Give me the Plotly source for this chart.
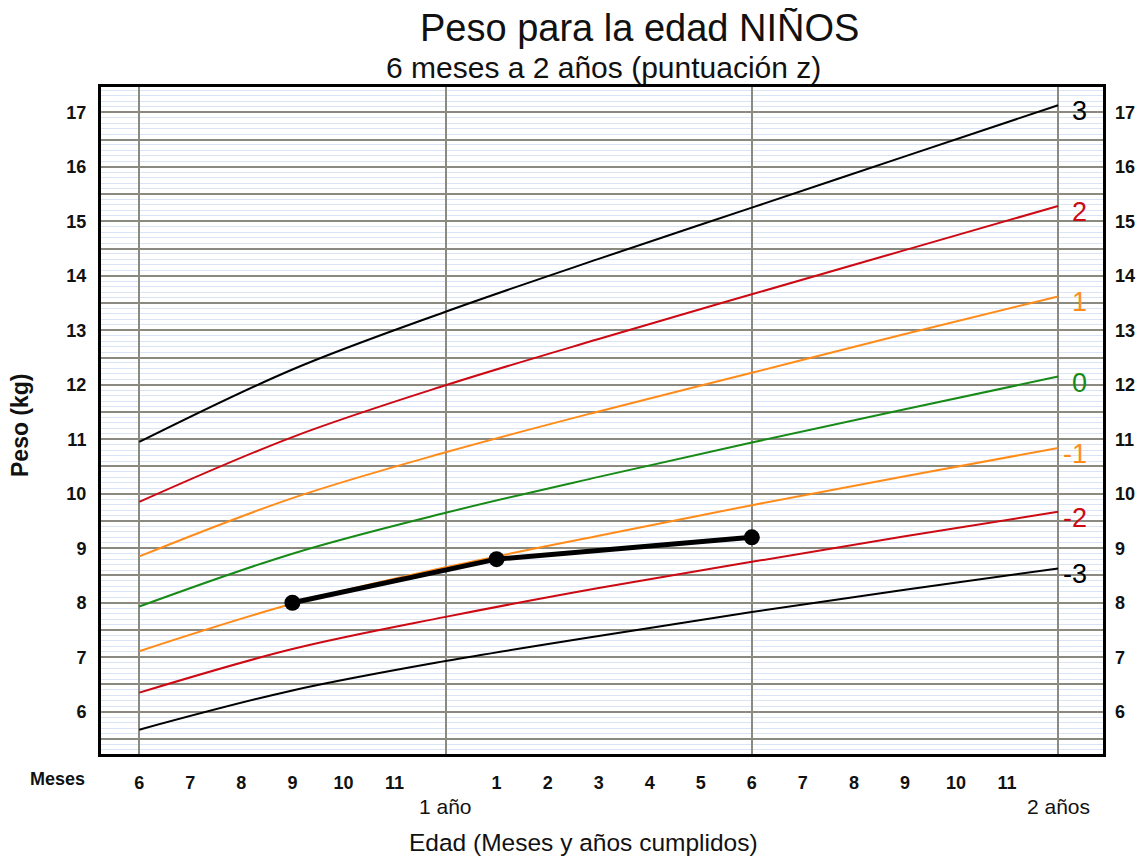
import plotly.graph_objects as go

# ---- data (every 3 months) ----
months = [6, 9, 12, 15, 18, 21, 24]
z_p3 = [10.95, 12.28, 13.34, 14.31, 15.25, 16.19, 17.13]
z_p2 = [9.85, 11.04, 11.99, 12.84, 13.66, 14.47, 15.28]
z_p1 = [8.85, 9.92, 10.76, 11.51, 12.22, 12.93, 13.62]
z_0 = [7.93, 8.90, 9.65, 10.31, 10.94, 11.55, 12.15]
z_m1 = [7.11, 7.98, 8.65, 9.23, 9.79, 10.32, 10.84]
z_m2 = [6.35, 7.15, 7.74, 8.27, 8.75, 9.22, 9.67]
z_m3 = [5.67, 6.39, 6.93, 7.39, 7.83, 8.24, 8.63]

z_labels = ["3", "2", "1", "0", "-1", "-2", "-3"]
child_age = [9, 13, 18]
child_weight = [8.0, 8.8, 9.2]

month_ticks = list(range(6, 25))
month_ticktext = ["6", "7", "8", "9", "10", "11", "", "1", "2", "3", "4", "5", "6",
                  "7", "8", "9", "10", "11", ""]
year_ticks = [6, 12, 18, 24]
year_labels = [(12, "1 año"), (24, "2 años")]
y_major = [5.5 + 0.5 * i for i in range(24)]
y_labels = [str(int(v)) if v == int(v) else "" for v in y_major]
y_right = list(range(6, 18))

# ---- styles ----
BLACK = "#000000"
RED = "#cc0a14"
ORANGE = "#ff8c1a"
GREEN = "#178a17"
series = [
    (z_p3, BLACK), (z_p2, RED), (z_p1, ORANGE), (z_0, GREEN),
    (z_m1, ORANGE), (z_m2, RED), (z_m3, BLACK),
]
FONT = "Arial, Liberation Sans, sans-serif"
TXT = "#111111"
DARK_GRID = "#8a8a80"
LIGHT_GRID = "#dbe4f4"
XR = [5.25, 24.88]
YR = [5.224, 17.464]

fig = go.Figure()
for vals, col in series:
    fig.add_trace(go.Scatter(x=months, y=vals, mode="lines", xaxis="x2", yaxis="y",
                             line=dict(color=col, width=2, shape="spline", smoothing=1.0),
                             hoverinfo="skip", showlegend=False))

fig.add_trace(go.Scatter(x=child_age, y=child_weight, mode="lines+markers", xaxis="x2",
                         yaxis="y", line=dict(color="#000000", width=5),
                         marker=dict(color="#000000", size=16), showlegend=False))
# invisible trace to anchor right axis
fig.add_trace(go.Scatter(x=child_age, y=child_weight, mode="markers", xaxis="x",
                         yaxis="y2", marker=dict(opacity=0), hoverinfo="skip",
                         showlegend=False))

annotations = []
for (vals, col), lab in zip(series, z_labels):
    annotations.append(dict(x=months[-1], y=vals[-1], xref="x2", yref="y", text=lab,
                            xanchor="right", yanchor="middle", xshift=31, yshift=-6,
                            showarrow=False, font=dict(family=FONT, size=27, color=col)))
for xv, lab in year_labels:
    annotations.append(dict(x=xv, y=-0.078, xref="x2", yref="paper", text=lab,
                            xanchor="center", yanchor="middle", showarrow=False,
                            font=dict(family=FONT, size=21, color=TXT)))
annotations += [
    dict(x=-0.0435, y=-0.0375, xref="paper", yref="paper", text="Meses", showarrow=False,
         xanchor="center", yanchor="middle",
         font=dict(family=FONT, size=18, color=TXT, weight="bold")),
    dict(x=0.482, y=-0.1334, xref="paper", yref="paper",
         text="Edad (Meses y años cumplidos)", showarrow=False,
         xanchor="center", yanchor="middle", font=dict(family=FONT, size=24.5, color=TXT)),
    dict(x=-0.081, y=0.493, xref="paper", yref="paper", text="Peso (kg)", textangle=-90,
         showarrow=False, xanchor="center", yanchor="middle",
         font=dict(family=FONT, size=23, color=TXT, weight="bold")),
    dict(x=0.537, y=1.088, xref="paper", yref="paper", text="Peso para la edad NIÑOS",
         showarrow=False, xanchor="center", yanchor="middle",
         font=dict(family=FONT, size=38, color=TXT)),
    dict(x=0.501, y=1.0285, xref="paper", yref="paper",
         text="6 meses a 2 años (puntuación z)", showarrow=False,
         xanchor="center", yanchor="middle", font=dict(family=FONT, size=30, color=TXT)),
]

fig.update_layout(
    width=1144, height=859,
    margin=dict(l=93, r=49, t=79, b=113),
    paper_bgcolor="white", plot_bgcolor="white",
    showlegend=False,
    xaxis=dict(range=XR, tickmode="array", tickvals=month_ticks, ticktext=month_ticktext,
               showgrid=True, gridcolor=LIGHT_GRID, gridwidth=1.5, zeroline=False,
               ticks="inside", ticklen=4, tickcolor="#333333", tickwidth=1.5,
               showline=True, linecolor="#000000", linewidth=3, mirror="ticks",
               ticklabelstandoff=10,
               tickfont=dict(family=FONT, size=18, color=TXT, weight="bold")),
    xaxis2=dict(range=XR, overlaying="x", tickmode="array", tickvals=year_ticks,
                showticklabels=False, showgrid=True, gridcolor=DARK_GRID, gridwidth=1.5,
                zeroline=False, showline=False),
    yaxis=dict(range=YR, tickmode="array", tickvals=y_major, ticktext=y_labels,
               showgrid=True, gridcolor=DARK_GRID, gridwidth=1.5, zeroline=False,
               showline=True, linecolor="#000000", linewidth=3, mirror=True,
               ticks="", ticklabelstandoff=8,
               minor=dict(dtick=0.1, tick0=0, showgrid=True, gridcolor=LIGHT_GRID,
                          gridwidth=1),
               tickfont=dict(family=FONT, size=18, color=TXT, weight="bold")),
    yaxis2=dict(range=YR, overlaying="y", side="right", tickmode="array", tickvals=y_right,
                showgrid=False, zeroline=False, showline=False, ticklabelstandoff=11,
                tickfont=dict(family=FONT, size=18, color=TXT, weight="bold")),
    annotations=annotations,
)

fig.write_html("out.html")
